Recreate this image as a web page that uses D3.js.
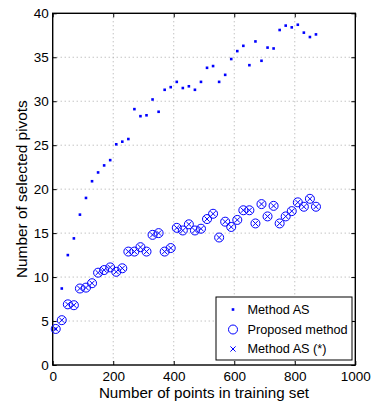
<!DOCTYPE html>
<html>
<head>
<meta charset="utf-8">
<script src="https://cdn.jsdelivr.net/npm/d3@7"></script>
<style>
  html, body { margin: 0; padding: 0; background: #fff; }
  svg { display: block; font-family: Arial, "Liberation Sans", sans-serif; }
</style>
</head>
<body>
<svg id="chart" width="376" height="408"></svg>
<script>
// ---- data ----
const trainingPoints = [10,30,50,70,90,110,130,150,170,190,210,230,250,270,290,310,330,350,370,390,410,430,450,470,490,510,530,550,570,590,610,630,650,670,690,710,730,750,770,790,810,830,850,870];
const methodAS = [4.1,8.7,12.5,14.4,17.1,19.0,20.9,21.9,22.7,23.3,25.1,25.4,25.7,29.1,28.3,28.4,30.2,28.8,31.3,31.6,32.2,31.5,31.7,31.3,32.2,33.8,34.0,32.2,33.0,34.8,35.7,36.3,34.1,36.8,34.6,36.1,36.0,38.1,38.6,38.4,38.7,37.8,37.3,37.6];
const proposed = [4.1,5.1,6.9,6.8,8.7,8.8,9.3,10.5,10.8,11.1,10.6,11.0,12.9,12.9,13.4,12.9,14.8,15.0,12.9,13.3,15.6,15.3,16.0,15.3,15.5,16.6,17.2,14.5,16.3,15.7,16.5,17.6,17.6,16.1,18.3,16.9,18.1,16.1,16.9,17.5,18.5,18.0,18.9,18.0];
const methodASstar = proposed.slice();
const xTicks = [0,200,400,600,800,1000];
const yTicks = [0,5,10,15,20,25,30,35,40];
const legendLabels = ["Method AS","Proposed method","Method AS (*)"];

// ---- layout ----
const svg = d3.select("#chart");
const L = 52.7, R = 355.3, T = 13.3, B = 365;
const x = d3.scaleLinear().domain([0,1000]).range([L,R]);
const y = d3.scaleLinear().domain([0,40]).range([B,T]);
const blue = "#0000ff";

// grid
const grid = svg.append("g");
grid.selectAll(".gx").data(xTicks.slice(1,-1)).join("line")
  .attr("x1", d => x(d)).attr("x2", d => x(d)).attr("y1", T).attr("y2", B)
  .attr("stroke", "#a8a8a8").attr("stroke-width", 1).attr("stroke-dasharray", "1,3");
grid.selectAll(".gy").data(yTicks.slice(1,-1)).join("line")
  .attr("y1", d => y(d)).attr("y2", d => y(d)).attr("x1", L).attr("x2", R)
  .attr("stroke", "#a8a8a8").attr("stroke-width", 1).attr("stroke-dasharray", "1,3");

// axes
const fmt = d3.format("d");
const axB = svg.append("g").attr("transform", `translate(0,${B})`)
  .call(d3.axisBottom(x).tickValues(xTicks).tickFormat(fmt).tickSizeInner(-4).tickSizeOuter(0).tickPadding(6));
const axL = svg.append("g").attr("transform", `translate(${L},0)`)
  .call(d3.axisLeft(y).tickValues(yTicks).tickFormat(fmt).tickSizeInner(-4).tickSizeOuter(0).tickPadding(4));
const axT = svg.append("g").attr("transform", `translate(0,${T})`)
  .call(d3.axisTop(x).tickValues(xTicks).tickFormat("").tickSizeInner(-4).tickSizeOuter(0));
const axR = svg.append("g").attr("transform", `translate(${R},0)`)
  .call(d3.axisRight(y).tickValues(yTicks).tickFormat("").tickSizeInner(-4).tickSizeOuter(0));
[axB, axL, axT, axR].forEach(a => {
  a.select(".domain").remove();
  a.selectAll("line").attr("stroke", "#000");
  a.selectAll("text").attr("font-size", 13.5).attr("fill", "#000")
    .style("font-family", "Arial, 'Liberation Sans', sans-serif");
});
svg.append("rect").attr("x", L).attr("y", T).attr("width", R - L).attr("height", B - T)
  .attr("fill", "none").attr("stroke", "#000").attr("stroke-width", 1.4);

// labels
svg.append("text").attr("x", 204).attr("y", 397.5).attr("text-anchor", "middle")
  .attr("font-size", 15.2).text("Number of points in training set");
svg.append("text").attr("transform", `translate(27,${(T + B) / 2}) rotate(-90)`)
  .attr("text-anchor", "middle").attr("font-size", 15.4).text("Number of selected pivots");

// marks
const idx = d3.range(trainingPoints.length);
const plot = svg.append("g");
plot.selectAll(".pc").data(idx).join("circle")
  .attr("cx", i => x(trainingPoints[i])).attr("cy", i => y(proposed[i])).attr("r", 4.5)
  .attr("fill", "none").attr("stroke", blue).attr("stroke-width", 1);
const s = 2.6;
plot.selectAll(".xm").data(idx).join("path")
  .attr("d", i => {
    const cx = x(trainingPoints[i]), cy = y(methodASstar[i]);
    return `M${cx - s},${cy - s}L${cx + s},${cy + s}M${cx - s},${cy + s}L${cx + s},${cy - s}`;
  })
  .attr("stroke", blue).attr("stroke-width", 1).attr("fill", "none");
plot.selectAll(".dm").data(idx).join("rect")
  .attr("x", i => x(trainingPoints[i]) - 1.3).attr("y", i => y(methodAS[i]) - 1.3)
  .attr("width", 2.6).attr("height", 2.6).attr("fill", blue);

// legend
const lg = svg.append("g");
lg.append("rect").attr("x", 216).attr("y", 297).attr("width", 136).attr("height", 63)
  .attr("fill", "#fff").attr("stroke", "#000").attr("stroke-width", 1);
const ly = [309.5, 329.5, 349];
const mx = 233;
lg.append("rect").attr("x", mx - 1.3).attr("y", ly[0] - 1.3).attr("width", 2.6).attr("height", 2.6).attr("fill", blue);
lg.append("circle").attr("cx", mx).attr("cy", ly[1]).attr("r", 4.5).attr("fill", "none").attr("stroke", blue);
lg.append("path").attr("d", `M${mx - s},${ly[2] - s}L${mx + s},${ly[2] + s}M${mx - s},${ly[2] + s}L${mx + s},${ly[2] - s}`)
  .attr("stroke", blue);
lg.selectAll(".lt").data(legendLabels).join("text")
  .attr("x", 247.5).attr("y", (d, i) => ly[i]).attr("dy", "0.35em")
  .attr("font-size", 12.7).text(d => d);
</script>
</body>
</html>
